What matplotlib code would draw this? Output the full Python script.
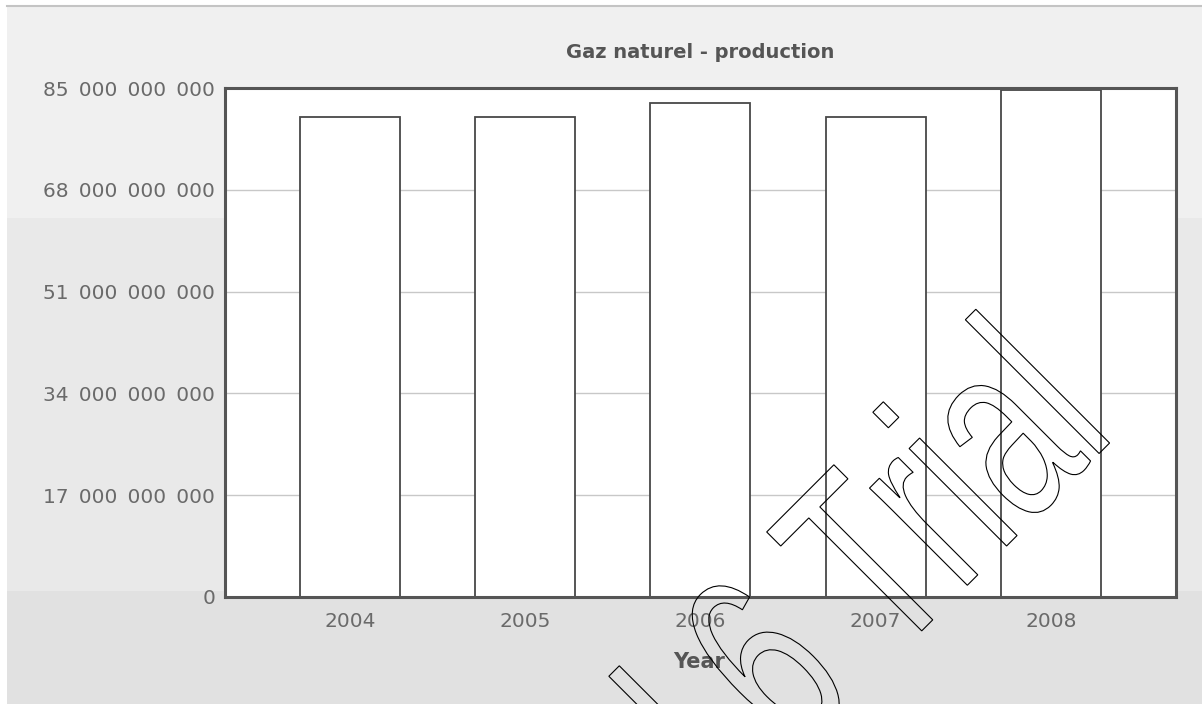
import matplotlib
matplotlib.use("Agg")
import matplotlib.pyplot as plt
import matplotlib.transforms as mtransforms
from matplotlib.textpath import TextPath
from matplotlib.patches import PathPatch, Rectangle
from matplotlib.lines import Line2D
from matplotlib.font_manager import FontProperties
from matplotlib.ticker import FuncFormatter

# production par année
annees = ["2004", "2005", "2006", "2007", "2008"]
production = [80.2e9, 80.2e9, 82.5e9, 80.2e9, 84.7e9]
graduations = [0, 17e9, 34e9, 51e9, 68e9, 85e9]

W, H = 1202, 704
fig = plt.figure(figsize=(W / 100, H / 100), dpi=100)
fig.patch.set_facecolor("white")

# fond en bandes grises
for y0, y1, c in [(6, 218, "#f0f0f0"), (218, 591, "#e9e9e9"), (591, 704, "#e1e1e1")]:
    fig.add_artist(Rectangle((7 / W, 1 - y1 / H), 1 - 7 / W, (y1 - y0) / H,
                             transform=fig.transFigure, facecolor=c,
                             edgecolor="none", zorder=-10))
fig.add_artist(Line2D([7 / W, 1], [1 - 5.5 / H, 1 - 5.5 / H], transform=fig.transFigure,
                      color="#c4c4c4", lw=1.5, zorder=-9))

ax = fig.add_axes([225 / W, 107 / H, 951 / W, 509 / H])
ax.set_facecolor("white")
x = range(len(annees))
ax.bar(x, production, width=0.571, color="white", edgecolor="#484848", linewidth=1.3, zorder=2)
ax.set_xlim(-0.7135, 4.7145)
ax.set_ylim(0, 85e9)
ax.set_xticks(list(x))
ax.set_xticklabels(annees)
ax.set_yticks(graduations)
ax.yaxis.set_major_formatter(FuncFormatter(lambda v, p: f"{int(v):,}".replace(",", "\u2002")))
ax.yaxis.grid(True, color="#c8c8c8", lw=1)
ax.set_axisbelow(True)
ax.tick_params(axis="y", length=0, labelsize=14.5, labelcolor="#6a6a6a", pad=7)
ax.tick_params(axis="x", length=0, labelsize=14.5, labelcolor="#6a6a6a", pad=11)
for s in ax.spines.values():
    s.set_color("#555555")
    s.set_linewidth(2.2)

fig.text(700.5 / W, 1 - 53 / H, "Gaz naturel - production", ha="center", va="center",
         fontsize=14, fontweight="bold", color="#555555")
fig.text(699 / W, 1 - 662 / H, "Year", ha="center", va="center",
         fontsize=15, fontweight="bold", color="#555555")

# filigrane en contour, étiré puis tourné de 45°
fp = FontProperties(family="Liberation Sans")
tp = TextPath((0, 0), "l 6 Trial", size=100, prop=fp)
tr = mtransforms.Affine2D().scale(1.68, 2.61).rotate_deg(45).translate(734.6, -114)
fig.add_artist(PathPatch(tp, facecolor="none", edgecolor="black", lw=0.8,
                         transform=tr, zorder=10))

fig.savefig("out.png", dpi=100, facecolor="white")
